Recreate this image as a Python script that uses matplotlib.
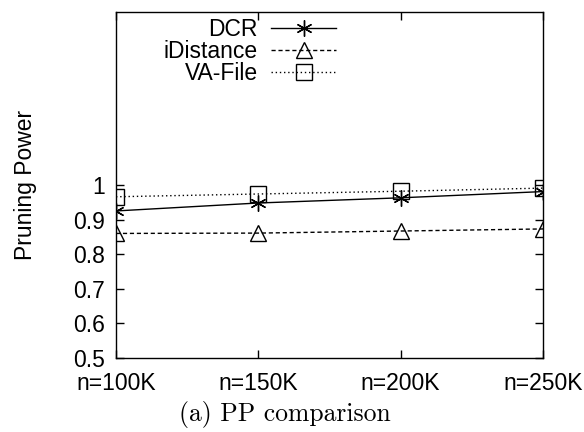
import matplotlib
matplotlib.use("Agg")
import matplotlib.pyplot as plt

categories = ["n=100K", "n=150K", "n=200K", "n=250K"]
dcr = [0.925, 0.948, 0.963, 0.981]
idistance = [0.860, 0.861, 0.867, 0.873]
vafile = [0.966, 0.974, 0.982, 0.991]
y_ticks = [0.5, 0.6, 0.7, 0.8, 0.9, 1.0]
y_ticklabels = ["0.5", "0.6", "0.7", "0.8", "0.9", "1"]

plt.rcParams['font.family'] = ['Liberation Sans', 'DejaVu Sans']

fig = plt.figure(figsize=(5.84, 4.32), dpi=100)
ax = fig.add_axes([116/584, 1 - 358/432, (543-116)/584, (358-12)/432])

x = list(range(len(categories)))
ms = 11.5
ax.plot(x, dcr, color='black', lw=1.0, ls='-', marker=(6, 2, 0), ms=ms,
        mew=1.0, mfc='none', mec='black', label='DCR')
ax.plot(x, idistance, color='black', lw=1.0, ls=(0, (3, 2)), marker='^', ms=ms,
        mew=1.0, mfc='none', mec='black', label='iDistance')
ax.plot(x, vafile, color='black', lw=1.0, ls=(0, (1, 2)), marker='s', ms=ms,
        mew=1.0, mfc='none', mec='black', label='VA-File')

ax.set_xlim(0, 3)
ax.set_ylim(0.5, 1.5)
ax.set_xticks(x)
ax.set_xticklabels(categories, fontsize=16.5)
ax.set_yticks(y_ticks)
ax.set_yticklabels(y_ticklabels, fontsize=16.5)
ax.tick_params(direction='in', length=6, width=1, top=True, right=True)
ax.tick_params(axis='y', pad=8)
ax.tick_params(axis='x', pad=10)
for s in ax.spines.values():
    s.set_linewidth(1.0)

ax.set_ylabel("Pruning Power", fontsize=16.5, labelpad=26)

leg = ax.legend(loc='upper left', bbox_to_anchor=(0.09, 1.008), markerfirst=False,
                frameon=False, fontsize=16.5, handlelength=2.8, handletextpad=0.6,
                labelspacing=-0.05, borderaxespad=0.0)

fig.text(285/584, 1 - 415/432, "(a) PP comparison", ha='center', va='center',
         fontsize=18.5, family='cmr10')

fig.savefig("out.png", dpi=100)
